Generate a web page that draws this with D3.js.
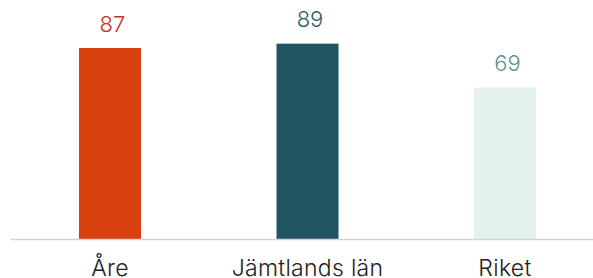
<!DOCTYPE html>
<html><head><meta charset="utf-8">
<script src="https://cdn.jsdelivr.net/npm/d3@7"></script>
<style>body{margin:0;background:#fff}svg{display:block}</style>
</head><body>
<svg id="c" width="593" height="278"></svg>
<script>
const categories = ["Åre", "Jämtlands län", "Riket"];
const values = [87, 89, 69];
const barColors = ["#d8400e", "#215661", "#e3f2ef"];
const labelColors = ["#c8342a", "#2f5f67", "#5e8f95"];

const svg = d3.select("#c");
const baseY = 239;
const x = d3.scaleBand().domain(categories).range([11.25, 603.75]).paddingInner(0.686).paddingOuter(0.343);
const y = d3.scaleLinear().domain([0, 100]).range([baseY, 19.5]);
const font = "Inter, 'Open Sans', sans-serif";

svg.selectAll("rect.bar").data(values).join("rect")
  .attr("class", "bar")
  .attr("x", (d, i) => x(categories[i]))
  .attr("width", x.bandwidth())
  .attr("y", d => y(d))
  .attr("height", d => baseY - y(d))
  .attr("fill", (d, i) => barColors[i]);

svg.selectAll("text.val").data(values).join("text")
  .attr("class", "val")
  .attr("x", (d, i) => x(categories[i]) + x.bandwidth() / 2 + 2.5)
  .attr("y", d => y(d) - 16.5)
  .attr("text-anchor", "middle")
  .attr("font-family", font)
  .attr("font-weight", 300)
  .attr("font-size", 22)
  .attr("fill", (d, i) => labelColors[i])
  .text(d => d);

const xAxis = d3.axisBottom(x).tickSize(0).tickPadding(0);
const g = svg.append("g").attr("transform", `translate(0,${baseY})`).call(xAxis);
g.select(".domain").attr("d", "M10.5,0.5H593").attr("stroke", "#d4d4d4").attr("stroke-width", 1.5);
g.selectAll(".tick text")
  .attr("y", 37).attr("dy", 0)
  .attr("font-family", font)
  .attr("font-weight", 300)
  .attr("font-size", 23)
  .attr("letter-spacing", 0.3)
  .attr("fill", "#222");
</script>
</body></html>
